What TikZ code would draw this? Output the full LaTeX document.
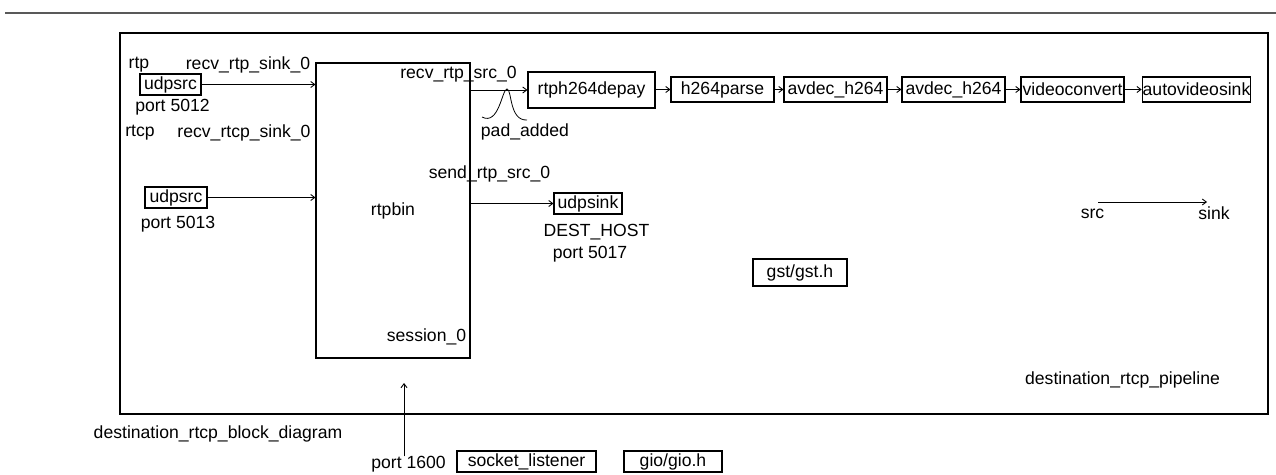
\documentclass[tikz,border=0pt]{standalone}
\usepackage{fontspec}
\setmainfont{Liberation Sans}
\usepackage{tikz}
\usetikzlibrary{arrows.meta}

\begin{document}
\begin{tikzpicture}[x=1pt, y=-1pt,
    elem/.style={draw, line width=1.1pt, inner sep=0.5pt, minimum height=21pt},
    lbl/.style={inner sep=0pt, yshift=-1.5pt},
    arr/.style={line width=0.9pt, -{Straight Barb[length=4pt,width=6pt]}},
    every node/.style={font=\fontsize{17.6}{20}\selectfont}
]
    \useasboundingbox (0,0) rectangle (1276,474);

    % Page rule and pipeline frame
    \draw[line width=2.5pt, gray!70!black] (5,13) -- (1276,13);
    \draw[line width=1.3pt] (120,33) rectangle (1268,414);

    % rtpbin
    \node[elem, minimum width=154pt, minimum height=295pt] (rtpbin) at (393,210.5) {rtpbin};
    \node[lbl] (rtpsink) at (248,63) {recv\_rtp\_sink\_0};
    \node[lbl] (rtcpsink) at (244,131) {recv\_rtcp\_sink\_0};
    \node[lbl] (rtpsrc) at (458.5,73) {recv\_rtp\_src\_0};
    \node[lbl] (sendsrc) at (489.5,172) {send\_rtp\_src\_0};
    \node[lbl] (session) at (426.5,335) {session\_0};

    % Sources
    \node[lbl] (rtp) at (139,63) {rtp};
    \node[elem, minimum width=61pt] (srca) at (170.5,84.5) {udpsrc};
    \node[lbl] (porta) at (172.5,106) {port 5012};
    \node[lbl] (rtcp) at (140,131) {rtcp};
    \node[elem, minimum width=62pt] (srcb) at (176,197.5) {udpsrc};
    \node[lbl] (portb) at (178,223) {port 5013};

    \foreach \s in {srca,srcb}{
        \draw[arr] (\s.east) -- (rtpbin.west |- \s);
    }

    % Decoding chain
    \node[elem, minimum width=127pt, minimum height=36pt] (depay) at (591.5,90) {rtph264depay};
    \foreach \nm/\cx/\txt in {parse/722.5/h264parse, deca/835.5/avdec\_h264,
        decb/953.5/avdec\_h264, conv/1072.5/videoconvert, vsink/1196.5/autovideosink}{
        \node[elem, minimum width=103pt, minimum height=25pt] (\nm) at (\cx,89.5) {\txt};
    }

    \draw[arr] (rtpbin.east |- depay) -- (depay.west);
    \foreach \a/\b in {depay/parse, parse/deca, deca/decb, decb/conv, conv/vsink}{
        \draw[arr] (\a.east |- \b) -- (\b.west);
    }

    % pad_added callback
    \coordinate (padl) at (482,117);
    \coordinate (padtop) at (507,89);
    \coordinate (padr) at (527,120);
    \draw[line width=0.8pt] (padl) .. controls (499,126) and (502,89) .. (padtop)
        .. controls (512,89) and (509,121) .. (padr);
    \node[lbl] (padadded) at (525,130) {pad\_added};

    % RTCP sender
    \node[elem, minimum width=68pt] (udpsink) at (588,203.5) {udpsink};
    \draw[arr] (rtpbin.east |- udpsink) -- (udpsink.west);
    \node[lbl] (desthost) at (596.5,231) {DEST\_HOST};
    \node[lbl] (portc) at (590,253) {port 5017};

    % Headers
    \node[elem, minimum width=94pt, minimum height=27pt] (gsth) at (800,272.5) {gst/gst.h};

    % Legend
    \node[lbl] (srclbl) at (1092.5,212) {src};
    \node[lbl] (sinklbl) at (1214,212) {sink};
    \coordinate (srcpt) at (1098,202);
    \coordinate (sinkpt) at (1207,202);
    \draw[arr] (srcpt) -- (sinkpt);

    \node[lbl] (pipeline) at (1122.5,378) {destination\_rtcp\_pipeline};
    \node[lbl] (blockdiag) at (218,432) {destination\_rtcp\_block\_diagram};

    % Socket side
    \node[lbl] (portd) at (408.5,463) {port 1600};
    \coordinate (sessin) at (404,383);
    \draw[arr] (portd.north -| sessin) -- (sessin);
    \node[elem, minimum width=139pt] (listener) at (526.5,461.5) {socket\_listener};
    \node[elem, minimum width=98pt] (gioh) at (673,461.5) {gio/gio.h};
\end{tikzpicture}
\end{document}
